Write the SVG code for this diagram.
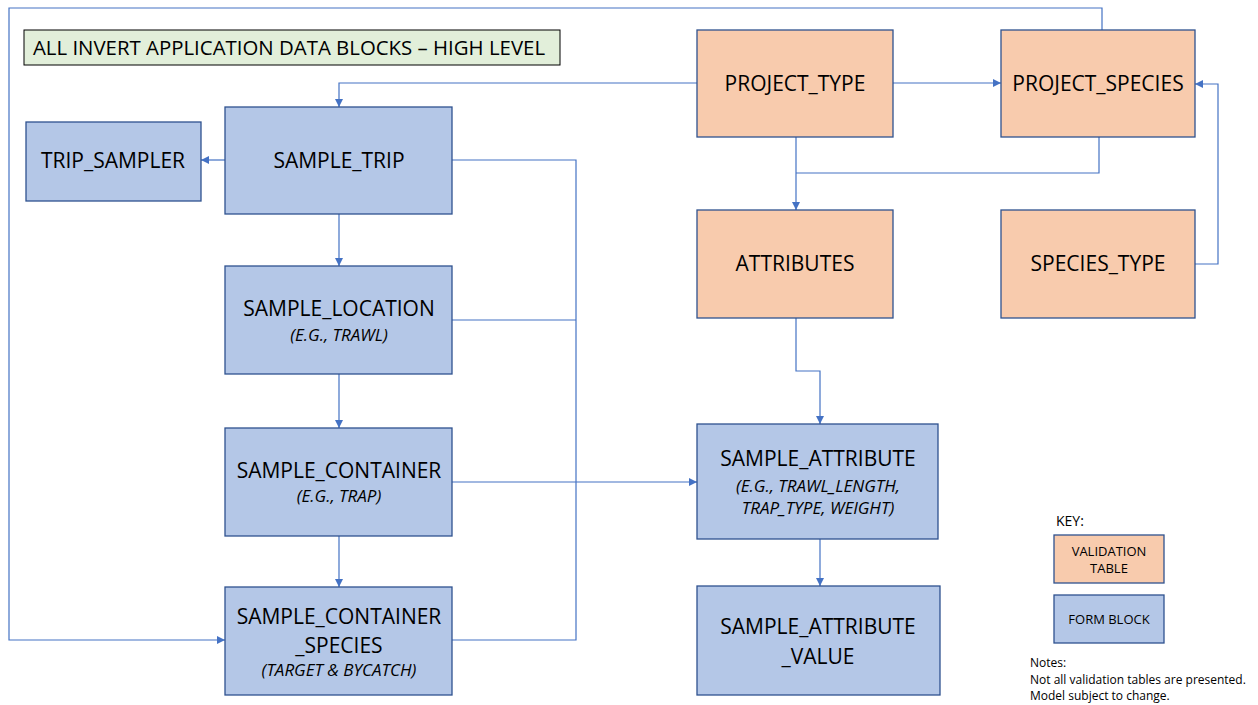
<svg xmlns="http://www.w3.org/2000/svg" width="1258" height="705" viewBox="0 0 1258 705">
<style>
.blue{fill:#b4c7e7;stroke:#2f528f;stroke-width:1.3}
.orange{fill:#f8cbad;stroke:#2f528f;stroke-width:1.3}
.t{font-family:"Open Sans","Liberation Sans",sans-serif;font-size:21px;fill:#000;text-anchor:middle}
.s{font-family:"Open Sans","Liberation Sans",sans-serif;font-size:17px;font-style:italic;fill:#000;text-anchor:middle}
.k{font-family:"Open Sans","Liberation Sans",sans-serif;font-size:13px;fill:#000;text-anchor:middle}
.n{font-family:"Open Sans","Liberation Sans",sans-serif;font-size:12px;fill:#000}
.c{fill:none;stroke:#4472c4;stroke-width:1.2}
</style>
<defs>
<marker id="ah" viewBox="0 0 10 10" refX="10" refY="5" markerWidth="8" markerHeight="8" markerUnits="userSpaceOnUse" orient="auto">
<path d="M0,0 L10,5 L0,10 z" fill="#4472c4"/>
</marker>
</defs>
<rect width="1258" height="705" fill="#fff"/>
<g id="connectors">
<polyline class="c" points="1102,30 1102,8 9,8 9,640 225,640" marker-end="url(#ah)"/>
<polyline class="c" points="697,83 339,83 339,107" marker-end="url(#ah)"/>
<polyline class="c" points="893,83 1001,83" marker-end="url(#ah)"/>
<polyline class="c" points="1195,264 1218,264 1218,84 1195,84" marker-end="url(#ah)"/>
<polyline class="c" points="796,137 796,210" marker-end="url(#ah)"/>
<polyline class="c" points="1099,137 1099,173 796,173"/>
<polyline class="c" points="225,160 201,160" marker-end="url(#ah)"/>
<polyline class="c" points="339,214 339,266" marker-end="url(#ah)"/>
<polyline class="c" points="339,374 339,428" marker-end="url(#ah)"/>
<polyline class="c" points="339,536 339,587" marker-end="url(#ah)"/>
<polyline class="c" points="452,160 576,160 576,640 452,640"/>
<polyline class="c" points="452,320 576,320"/>
<polyline class="c" points="452,482 697,482" marker-end="url(#ah)"/>
<polyline class="c" points="796,318 796,371 820,371 820,424" marker-end="url(#ah)"/>
<polyline class="c" points="820,539 820,586" marker-end="url(#ah)"/>
</g>
<g id="title">
<rect x="24" y="30" width="536" height="35" fill="#e2efda" stroke="#000" stroke-width="1"/>
<text class="t" x="289" y="55" style="font-size:20.4px">ALL INVERT APPLICATION DATA BLOCKS – HIGH LEVEL</text>
</g>
<g id="trip_sampler">
<rect class="blue" x="26" y="122" width="175" height="79"/>
<text class="t" x="113" y="168">TRIP_SAMPLER</text>
</g>
<g id="sample_trip">
<rect class="blue" x="225" y="107" width="227" height="107"/>
<text class="t" x="339" y="168">SAMPLE_TRIP</text>
</g>
<g id="sample_location">
<rect class="blue" x="225" y="266" width="227" height="108"/>
<text class="t" x="339" y="316">SAMPLE_LOCATION</text>
<text class="s" x="339" y="341">(E.G., TRAWL)</text>
</g>
<g id="sample_container">
<rect class="blue" x="225" y="428" width="227" height="108"/>
<text class="t" x="339" y="478">SAMPLE_CONTAINER</text>
<text class="s" x="339" y="502">(E.G., TRAP)</text>
</g>
<g id="sample_container_species">
<rect class="blue" x="225" y="587" width="227" height="108"/>
<text class="t" x="339" y="624">SAMPLE_CONTAINER</text>
<text class="t" x="339" y="653">_SPECIES</text>
<text class="s" x="339" y="676">(TARGET &amp; BYCATCH)</text>
</g>
<g id="project_type">
<rect class="orange" x="697" y="30" width="196" height="107"/>
<text class="t" x="795" y="91">PROJECT_TYPE</text>
</g>
<g id="project_species">
<rect class="orange" x="1001" y="30" width="194" height="107"/>
<text class="t" x="1098" y="91">PROJECT_SPECIES</text>
</g>
<g id="attributes">
<rect class="orange" x="697" y="210" width="196" height="108"/>
<text class="t" x="795" y="271">ATTRIBUTES</text>
</g>
<g id="species_type">
<rect class="orange" x="1001" y="210" width="194" height="108"/>
<text class="t" x="1098" y="271">SPECIES_TYPE</text>
</g>
<g id="sample_attribute">
<rect class="blue" x="697" y="424" width="241" height="115"/>
<text class="t" x="818" y="466">SAMPLE_ATTRIBUTE</text>
<text class="s" x="818" y="492">(E.G., TRAWL_LENGTH,</text>
<text class="s" x="818" y="514">TRAP_TYPE, WEIGHT)</text>
</g>
<g id="sample_attribute_value">
<rect class="blue" x="697" y="586" width="243" height="109"/>
<text class="t" x="818" y="634">SAMPLE_ATTRIBUTE</text>
<text class="t" x="818" y="664">_VALUE</text>
</g>
<g id="key">
<text class="n" x="1056" y="526" style="font-size:14px">KEY:</text>
<rect class="orange" x="1054" y="535" width="110" height="48"/>
<text class="k" x="1109" y="556">VALIDATION</text>
<text class="k" x="1109" y="573">TABLE</text>
<rect class="blue" x="1054" y="595" width="110" height="48"/>
<text class="k" x="1109" y="624">FORM BLOCK</text>
</g>
<g id="notes">
<text class="n" x="1030" y="667">Notes:</text>
<text class="n" x="1030" y="684">Not all validation tables are presented.</text>
<text class="n" x="1030" y="700">Model subject to change.</text>
</g>
</svg>
